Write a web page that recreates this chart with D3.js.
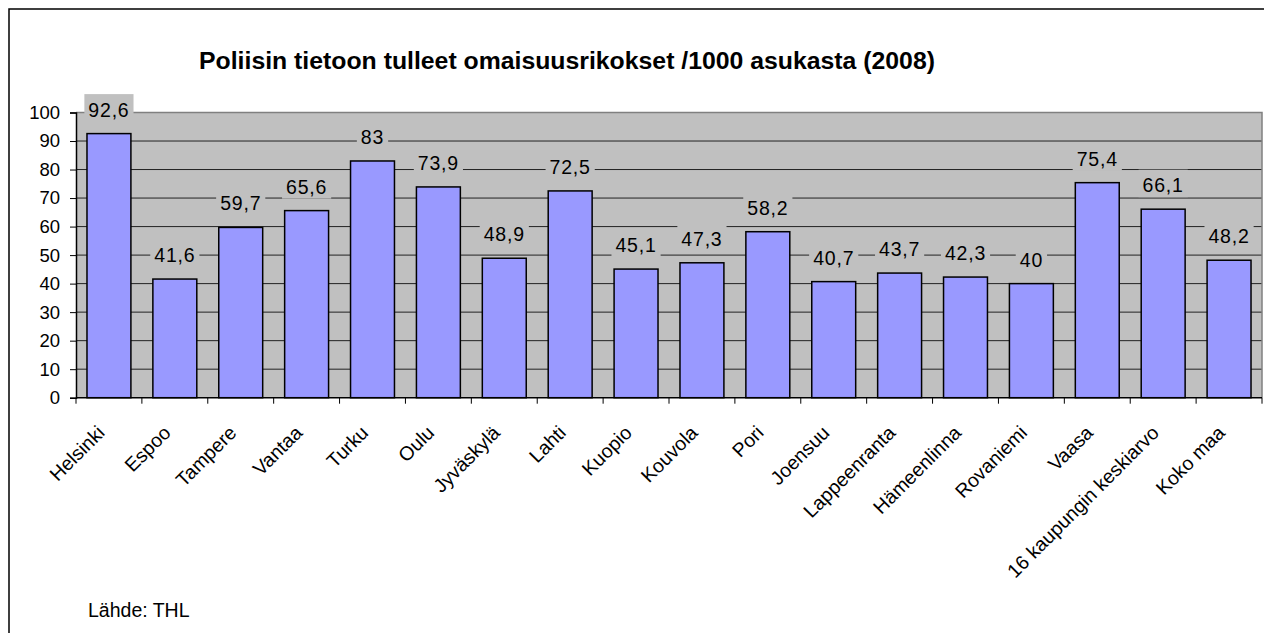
<!DOCTYPE html>
<html>
<head>
<meta charset="utf-8">
<script src="https://cdn.jsdelivr.net/npm/d3@7"></script>
<style>
  body { margin: 0; background: #fff; }
  text { font-family: "Liberation Sans", Arial, sans-serif; }
</style>
</head>
<body>
<svg id="chart"></svg>
<script>
const width = 1264;
const height = 633;

const cities = ["Helsinki", "Espoo", "Tampere", "Vantaa", "Turku", "Oulu", "Jyväskylä", "Lahti",
    "Kuopio", "Kouvola", "Pori", "Joensuu", "Lappeenranta", "Hämeenlinna", "Rovaniemi", "Vaasa",
    "16 kaupungin keskiarvo", "Koko maa"];
const values = [92.6, 41.6, 59.7, 65.6, 83, 73.9, 48.9, 72.5, 45.1, 47.3, 58.2, 40.7, 43.7, 42.3, 40, 75.4, 66.1, 48.2];
const yTicks = [0, 10, 20, 30, 40, 50, 60, 70, 80, 90, 100];

const title = "Poliisin tietoon tulleet omaisuusrikokset /1000 asukasta (2008)";
const source = "Lähde: THL";

const plotLeft = 76, plotRight = 1262, plotTop = 112.5, plotBottom = 397.7;

const svg = d3.select("#chart")
    .attr("width", width)
    .attr("height", height);

// outer chart frame (runs off the right and bottom edges)
svg.append("rect")
    .attr("x", 9).attr("y", 9)
    .attr("width", 1400).attr("height", 800)
    .attr("fill", "#fff")
    .attr("stroke", "#000")
    .attr("stroke-width", 1.5);

const x = d3.scaleBand()
    .domain(cities)
    .range([plotLeft, plotRight])
    .paddingInner(0).paddingOuter(0);

const y = d3.scaleLinear()
    .domain([0, 100])
    .range([plotBottom, plotTop]);

// plot background
svg.append("rect")
    .attr("x", plotLeft).attr("y", plotTop)
    .attr("width", plotRight - plotLeft).attr("height", plotBottom - plotTop)
    .attr("fill", "#c0c0c0");

// gridlines
svg.append("g")
    .selectAll("line")
    .data(yTicks.filter(d => d > 0 && d < 100))
    .enter().append("line")
    .attr("x1", plotLeft).attr("x2", plotRight)
    .attr("y1", d => y(d)).attr("y2", d => y(d))
    .attr("stroke", "#222")
    .attr("stroke-width", 1);

// plot border top / right
svg.append("path")
    .attr("d", `M${plotLeft},${plotTop}H${plotRight}V${plotBottom}`)
    .attr("fill", "none")
    .attr("stroke", "#808080")
    .attr("stroke-width", 1.5);

// bars
const barW = x.bandwidth() / 1.5;
svg.append("g")
    .selectAll("rect")
    .data(values)
    .enter().append("rect")
    .attr("x", (d, i) => x(cities[i]) + (x.bandwidth() - barW) / 2)
    .attr("y", d => y(d))
    .attr("width", barW)
    .attr("height", d => y(0) - y(d))
    .attr("fill", "#9999ff")
    .attr("stroke", "#000")
    .attr("stroke-width", 1.5);

// y axis
const yAxis = svg.append("g")
    .attr("transform", `translate(${plotLeft},0)`)
    .call(d3.axisLeft(y).tickValues(yTicks).tickSize(6).tickPadding(10));
yAxis.select(".domain").attr("stroke", "#000").attr("stroke-width", 1.5);
yAxis.selectAll(".tick line").attr("stroke", "#000");
yAxis.selectAll(".tick text")
    .attr("font-size", 18.5)
    .attr("font-family", "Liberation Sans, Arial, sans-serif")
    .attr("fill", "#000");

// x axis: line + ticks between categories
svg.append("line")
    .attr("x1", plotLeft).attr("x2", plotRight)
    .attr("y1", plotBottom).attr("y2", plotBottom)
    .attr("stroke", "#000").attr("stroke-width", 1.5);

const boundaries = cities.map(c => x(c)).concat([plotRight]);
svg.append("g")
    .selectAll("line")
    .data(boundaries)
    .enter().append("line")
    .attr("x1", d => d).attr("x2", d => d)
    .attr("y1", plotBottom).attr("y2", plotBottom + 6)
    .attr("stroke", "#000");

// x labels rotated
svg.append("g")
    .selectAll("text")
    .data(cities)
    .enter().append("text")
    .attr("transform", d => `translate(${x(d) + x.bandwidth() / 2 - 3},434) rotate(-45)`)
    .attr("text-anchor", "end")
    .attr("font-size", 19.5)
    .attr("fill", "#000")
    .text(d => d);

// data labels with background boxes
const labels = svg.append("g")
    .selectAll("g")
    .data(values)
    .enter().append("g");

labels.append("text")
    .attr("x", (d, i) => x(cities[i]) + x.bandwidth() / 2)
    .attr("y", d => y(d) - 17)
    .attr("text-anchor", "middle")
    .attr("font-size", 19.5)
    .attr("letter-spacing", 0.8)
    .attr("fill", "#000")
    .text(d => String(d).replace(".", ","));

labels.each(function(d) {
    const g = d3.select(this);
    const t = g.select("text");
    const bb = t.node().getBBox();
    const base = y(d) - 17;
    g.insert("rect", "text")
        .attr("x", bb.x - 4)
        .attr("y", base - 22.5)
        .attr("width", bb.width + 8)
        .attr("height", 27.5)
        .attr("fill", "#c0c0c0");
});

// title
svg.append("text")
    .attr("x", 567).attr("y", 69)
    .attr("text-anchor", "middle")
    .attr("font-size", 24.8)
    .attr("font-weight", "bold")
    .attr("fill", "#000")
    .text(title);

// source
svg.append("text")
    .attr("x", 88).attr("y", 616.5)
    .attr("font-size", 19.5)
    .attr("fill", "#000")
    .text(source);
</script>
</body>
</html>
